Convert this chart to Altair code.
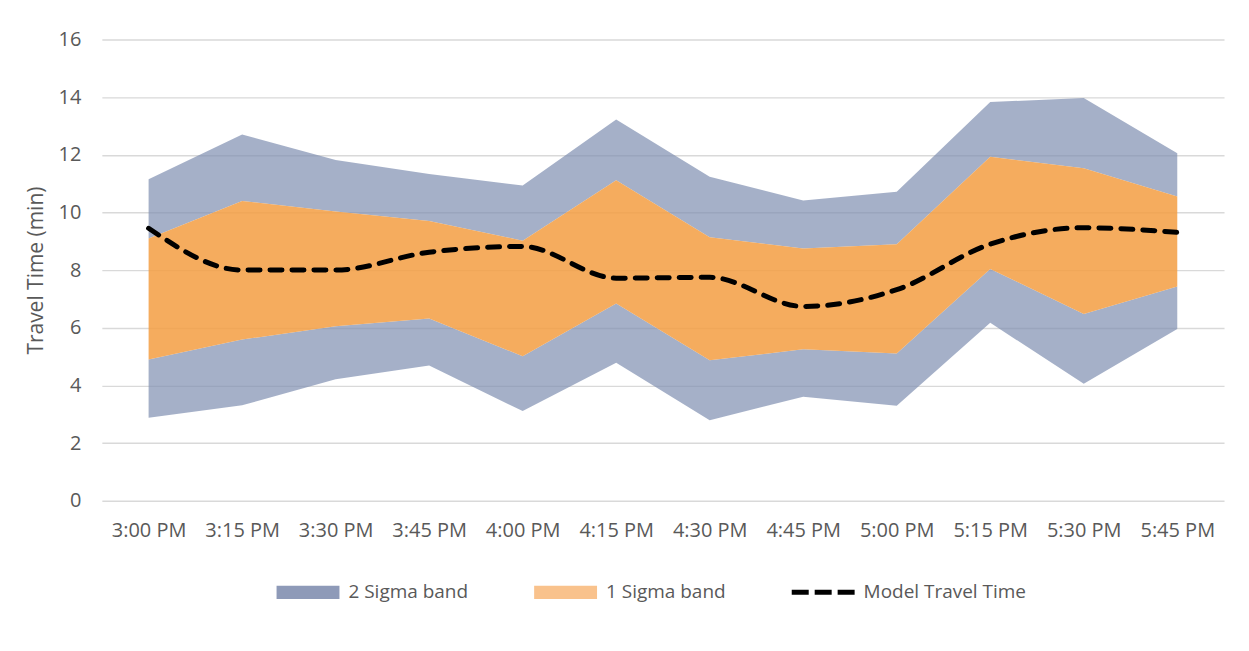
import altair as alt
import pandas as pd

times = ["3:00 PM", "3:15 PM", "3:30 PM", "3:45 PM", "4:00 PM", "4:15 PM",
         "4:30 PM", "4:45 PM", "5:00 PM", "5:15 PM", "5:30 PM", "5:45 PM"]
upper_2sigma = [11.15, 12.70, 11.82, 11.33, 10.93, 13.22, 11.24, 10.41, 10.72, 13.83, 13.97, 12.05]
upper_1sigma = [9.10, 10.40, 10.03, 9.70, 9.02, 11.12, 9.14, 8.75, 8.90, 11.93, 11.53, 10.55]
lower_1sigma = [4.90, 5.59, 6.05, 6.32, 5.01, 6.84, 4.87, 5.25, 5.11, 8.04, 6.48, 7.43]
lower_2sigma = [2.88, 3.31, 4.21, 4.69, 3.11, 4.79, 2.79, 3.61, 3.29, 6.17, 4.06, 5.96]
model = [9.45, 8.00, 8.00, 8.62, 8.82, 7.72, 7.75, 6.74, 7.32, 8.90, 9.47, 9.31]
series = ["2 Sigma band", "1 Sigma band", "Model Travel Time"]

legend_colors = ["#8E9AB8", "#F9C28C", "#000000"]
legend_shapes = [
    "M-1,-0.21L1,-0.21L1,0.21L-1,0.21Z",
    "M-1,-0.21L1,-0.21L1,0.21L-1,0.21Z",
    "M-1,-0.08L-0.46,-0.08L-0.46,0.08L-1,0.08Z"
    "M-0.27,-0.08L0.27,-0.08L0.27,0.08L-0.27,0.08Z"
    "M0.46,-0.08L1,-0.08L1,0.08L0.46,0.08Z",
]

rows = []
for i, t in enumerate(times):
    rows.append({"time": t, "part": "lower2", "lo": lower_2sigma[i], "hi": lower_1sigma[i]})
    rows.append({"time": t, "part": "upper2", "lo": upper_1sigma[i], "hi": upper_2sigma[i]})
    rows.append({"time": t, "part": "one", "lo": lower_1sigma[i], "hi": upper_1sigma[i]})
band_df = pd.DataFrame(rows)
model_df = pd.DataFrame({"time": times, "model": model})
legend_df = pd.DataFrame({"series": series})

x_enc = alt.X("time:O", scale=alt.Scale(type="point", domain=times, padding=0.5),
              axis=alt.Axis(title=None, labelAngle=0, domain=False, ticks=False,
                            labelPadding=20, grid=False))
y_scale = alt.Scale(domain=[0, 16], nice=False)
y_axis = alt.Axis(title="Travel Time (min)", values=list(range(0, 17, 2)),
                  domain=False, ticks=False, labelPadding=21, titlePadding=12,
                  grid=True)

base = alt.Chart(band_df)
blue = base.transform_filter(alt.FieldOneOfPredicate(field="part", oneOf=["lower2", "upper2"])).mark_area(
    color="#7F8FB0", opacity=0.7, interpolate="linear"
).encode(x=x_enc, y=alt.Y("lo:Q", scale=y_scale, axis=y_axis), y2="hi:Q", detail="part:N")

orange = base.transform_filter(alt.datum.part == "one").mark_area(
    color="#F39D42", opacity=0.85, interpolate="linear"
).encode(x=x_enc, y=alt.Y("lo:Q", scale=y_scale, axis=y_axis), y2="hi:Q")

line = alt.Chart(model_df).mark_line(
    color="black", strokeWidth=5, strokeDash=[12, 10], strokeCap="round", interpolate="monotone"
).encode(x=x_enc, y=alt.Y("model:Q", scale=y_scale, axis=y_axis))

leg = alt.Legend(title=None, orient="none", legendX=175, legendY=522, direction="horizontal",
                 columns=3, columnPadding=66, labelOffset=9, symbolSize=3969,
                 symbolOpacity=1, symbolStrokeWidth=0, labelFontSize=19, labelLimit=400,
                 labelColor="#595959", padding=0)
legend_layer = alt.Chart(legend_df).mark_point(filled=True, opacity=0, size=3969).encode(
    color=alt.Color("series:N", scale=alt.Scale(domain=series, range=legend_colors), legend=leg),
    shape=alt.Shape("series:N", scale=alt.Scale(domain=series, range=legend_shapes), legend=leg),
)

chart = alt.layer(blue, orange, line, legend_layer).properties(
    width=1124, height=462,
    padding={"left": 94, "top": 31, "right": 17, "bottom": 140},
    autosize=alt.AutoSizeParams(type="none"),
).configure(font="Open Sans").configure_axis(
    labelFont="Open Sans", labelFontSize=20, labelColor="#595959",
    titleFont="Open Sans", titleFontSize=21, titleFontWeight="normal", titleColor="#595959",
    gridColor="#D9D9D9", gridWidth=1.4,
).configure_legend(labelFont="Open Sans").configure_view(stroke=None)

chart.save("out.html", embed_options={"renderer": "svg", "actions": False})
